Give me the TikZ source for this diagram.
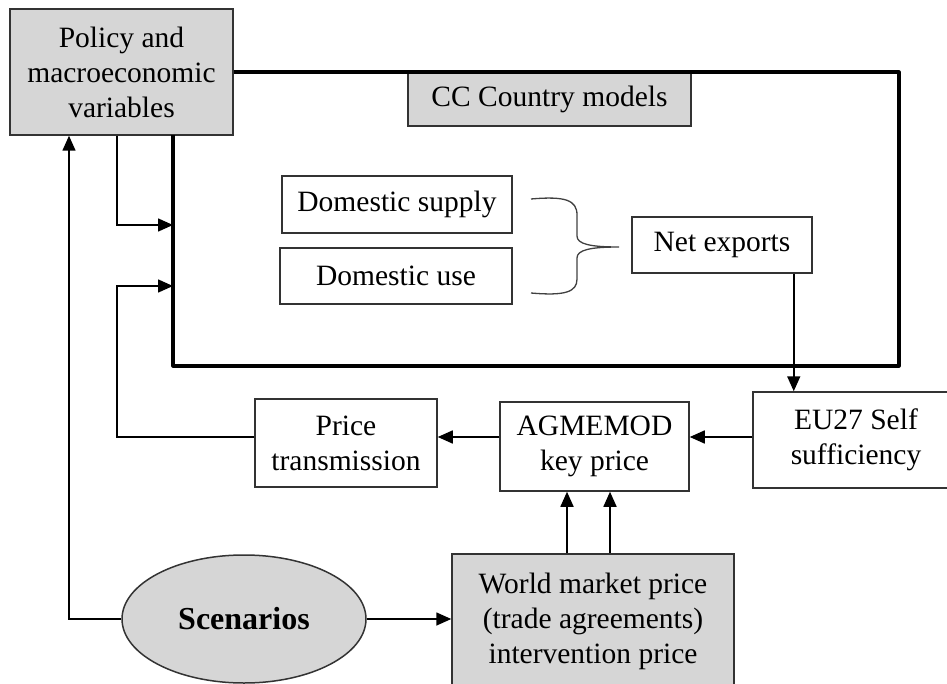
\documentclass[tikz,border=0pt]{standalone}
\usepackage{fontspec}
\setmainfont{Liberation Serif}
\usetikzlibrary{arrows.meta,shapes.geometric}

\definecolor{boxgrey}{RGB}{214,214,214}

\tikzstyle{box}=[rectangle, draw=black!80, line width=1.5pt, align=center, inner sep=0pt]
\tikzstyle{greybox}=[box, fill=boxgrey]
\tikzstyle{link}=[line width=1.6pt, -{Triangle[length=15pt,width=13pt]}]
\tikzstyle{frame}=[line width=3.2pt, line join=round]

\begin{document}
\begin{tikzpicture}[x=1pt, y=-1pt, font=\fontsize{29.5}{35}\selectfont]
        \useasboundingbox (0,0) rectangle (947,684);

        \node[greybox, minimum width=223pt, minimum height=126pt](policy) at (121.5, 72) {Policy and\\macroeconomic\\variables};
        \node[greybox, minimum width=283pt, minimum height=53pt](cc) at (549.5, 99.5) {CC Country models};

        \node[box, minimum width=230pt, minimum height=57pt](supply) at (397, 204.5) {Domestic supply};
        \node[box, minimum width=232pt, minimum height=56pt](use) at (396, 276) {Domestic use};
        \node[box, minimum width=180pt, minimum height=56pt](netexp) at (722, 245) {Net exports};

        \node[box, minimum width=182pt, minimum height=88pt](price) at (346, 443) {Price\\transmission};
        \node[box, minimum width=189pt, minimum height=89pt](agme) at (594.5, 446.5) {AGMEMOD\\key price};
        \node[box, minimum width=206pt, minimum height=96pt](eu) at (856, 440) {EU27 Self\\sufficiency};

        \node[ellipse, draw=black!80, line width=1.5pt, fill=boxgrey, minimum width=244pt, minimum height=128pt, inner sep=0pt, font=\fontsize{32}{38}\selectfont\bfseries](scen) at (244, 619) {Scenarios};
        \node[greybox, minimum width=282pt, minimum height=134pt](world) at (593, 621) {World market price\\(trade agreements)\\intervention price};

        \coordinate (ftl) at (173, 135);
        \coordinate (ftr) at (899, 72);
        \coordinate (fbr) at (899, 366);
        \coordinate (fbl) at (173, 366);
        \coordinate (in1) at (173, 225);
        \coordinate (in2) at (173, 286);
        \coordinate (mid) at (0, 437);
        \coordinate (lx) at (69, 0);
        \coordinate (up) at ([xshift=-4.5pt]policy.south);

        \draw[frame] (policy.east) -- (ftr) -- (fbr) -- (fbl) -- (ftl);

        \draw[line width=1.3pt, black!75] (531,199) .. controls (565,196) and (577,200) .. (577,215) -- (577,236)
            .. controls (577,244) and (590,247) .. (619,247)
            .. controls (590,247) and (577,250) .. (577,258) -- (577,279)
            .. controls (577,292) and (565,296) .. (531,293);

        \begin{scope}[every path/.style={link}]
            \draw (up) |- (in1);
            \draw (price.west |- mid) -| (in2 -| up) -- (in2);
            \draw ([xshift=-19pt]netexp.south east) -- ([xshift=-19pt]netexp.south east |- eu.north);
            \draw (eu.west |- mid) -- (agme.east |- mid);
            \draw (agme.west |- mid) -- (price.east |- mid);
            \draw ([xshift=-26pt]world.north) -- ([xshift=-26pt]world.north |- agme.south);
            \draw ([xshift=17pt]world.north) -- ([xshift=17pt]world.north |- agme.south);
            \draw (scen.west) -| (lx |- policy.south);
            \draw (scen.east) -- (world.west |- scen.east);
        \end{scope}
    \end{tikzpicture}
\end{document}
